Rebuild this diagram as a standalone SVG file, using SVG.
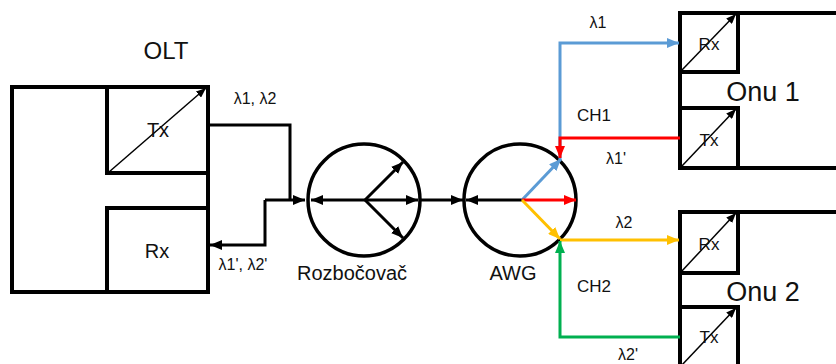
<svg xmlns="http://www.w3.org/2000/svg" width="836" height="364" viewBox="0 0 836 364">
  <style>
    .box { fill: #fff; stroke: #000; stroke-width: 4; }
    .diag { fill: none; stroke: #000; stroke-width: 1.5; }
    .wire { fill: none; stroke-width: 3; stroke-linejoin: miter; }
    .k { stroke: #000; }
    .b { stroke: #5B9BD5; }
    .r { stroke: #FF0000; }
    .o { stroke: #FFC000; }
    .g { stroke: #00B050; }
    .ring { fill: #fff; stroke: #000; stroke-width: 3.5; }
    text { font-family: "Liberation Sans", Arial, sans-serif; fill: #111; }
    .big { font-size: 24px; }
    .onu { font-size: 27px; }
    .mid { font-size: 20px; }
    .lab { font-size: 17px; }
    .lam { font-size: 16px; }
  </style>
  <defs>
    <marker id="ak" markerUnits="userSpaceOnUse" viewBox="0 0 12 10" refX="12" refY="5" markerWidth="12" markerHeight="10" orient="auto">
      <path d="M0,0 L12,5 L0,10 z" fill="#000"/>
    </marker>
    <marker id="ab" markerUnits="userSpaceOnUse" viewBox="0 0 12 10" refX="12" refY="5" markerWidth="12" markerHeight="10" orient="auto">
      <path d="M0,0 L12,5 L0,10 z" fill="#5B9BD5"/>
    </marker>
    <marker id="ar" markerUnits="userSpaceOnUse" viewBox="0 0 12 10" refX="12" refY="5" markerWidth="12" markerHeight="10" orient="auto">
      <path d="M0,0 L12,5 L0,10 z" fill="#FF0000"/>
    </marker>
    <marker id="ao" markerUnits="userSpaceOnUse" viewBox="0 0 12 10" refX="12" refY="5" markerWidth="12" markerHeight="10" orient="auto">
      <path d="M0,0 L12,5 L0,10 z" fill="#FFC000"/>
    </marker>
    <marker id="ag" markerUnits="userSpaceOnUse" viewBox="0 0 12 10" refX="12" refY="5" markerWidth="12" markerHeight="10" orient="auto">
      <path d="M0,0 L12,5 L0,10 z" fill="#00B050"/>
    </marker>
    <marker id="ad" markerUnits="userSpaceOnUse" viewBox="0 0 10 8" refX="10" refY="4" markerWidth="10" markerHeight="8" orient="auto">
      <path d="M0,0 L10,4 L0,8 z" fill="#000"/>
    </marker>
  </defs>

  <!-- OLT -->
  <g id="olt">
    <rect class="box" x="12" y="87" width="196" height="205"/>
    <text class="big" x="166" y="59" text-anchor="middle">OLT</text>
  </g>
  <g id="olt-tx">
    <rect class="box" x="107" y="87" width="101" height="86"/>
    <line class="diag" x1="109" y1="172" x2="206" y2="88" marker-end="url(#ad)"/>
    <text class="mid" x="158" y="137" text-anchor="middle">Tx</text>
  </g>
  <g id="olt-rx">
    <rect class="box" x="107" y="208" width="101" height="84"/>
    <text class="mid" x="157" y="258" text-anchor="middle">Rx</text>
  </g>

  <!-- Splitter -->
  <g id="splitter">
    <circle class="ring" cx="364" cy="200" r="56"/>
    <g class="wire k">
      <line x1="365" y1="200" x2="311" y2="200" marker-end="url(#ak)"/>
      <line x1="365" y1="200" x2="418" y2="200" marker-end="url(#ak)"/>
      <line x1="365" y1="200" x2="403" y2="162" marker-end="url(#ak)"/>
      <line x1="365" y1="200" x2="403" y2="238" marker-end="url(#ak)"/>
    </g>
    <text class="mid" x="352" y="280" text-anchor="middle">Rozbočovač</text>
  </g>

  <!-- AWG -->
  <g id="awg">
    <circle class="ring" cx="520" cy="200" r="56"/>
    <line class="wire k" x1="522" y1="200" x2="466" y2="200" marker-end="url(#ak)"/>
    <line class="wire b" x1="522" y1="200" x2="561" y2="159" marker-end="url(#ab)"/>
    <line class="wire r" x1="522" y1="200" x2="576" y2="200" marker-end="url(#ar)"/>
    <line class="wire o" x1="522" y1="200" x2="560" y2="239" marker-end="url(#ao)"/>
    <text class="mid" x="513" y="280" text-anchor="middle">AWG</text>
  </g>

  <!-- ONU 1 -->
  <g id="onu1">
    <rect class="box" x="680" y="13" width="170" height="155"/>
    <text class="onu" x="763" y="101" text-anchor="middle">Onu 1</text>
  </g>
  <g id="onu1-rx">
    <rect class="box" x="680" y="13" width="58" height="59"/>
    <line class="diag" x1="681" y1="71" x2="736" y2="14" marker-end="url(#ad)"/>
    <text class="lab" x="709" y="50" text-anchor="middle">Rx</text>
  </g>
  <g id="onu1-tx">
    <rect class="box" x="680" y="108" width="58" height="60"/>
    <line class="diag" x1="681" y1="167" x2="736" y2="109" marker-end="url(#ad)"/>
    <text class="lab" x="709" y="146" text-anchor="middle">Tx</text>
  </g>

  <!-- ONU 2 -->
  <g id="onu2">
    <rect class="box" x="680" y="212" width="170" height="170"/>
    <text class="onu" x="763" y="301" text-anchor="middle">Onu 2</text>
  </g>
  <g id="onu2-rx">
    <rect class="box" x="680" y="212" width="58" height="61"/>
    <line class="diag" x1="681" y1="272" x2="736" y2="213" marker-end="url(#ad)"/>
    <text class="lab" x="709" y="250" text-anchor="middle">Rx</text>
  </g>
  <g id="onu2-tx">
    <rect class="box" x="680" y="307" width="58" height="75"/>
    <line class="diag" x1="681" y1="366" x2="736" y2="308" marker-end="url(#ad)"/>
    <text class="lab" x="709" y="343" text-anchor="middle">Tx</text>
  </g>

  <!-- Connectors -->
  <g id="connectors">
    <polyline class="wire k" points="208,125 290,125 290,200"/>
    <line class="wire k" x1="265" y1="200" x2="305" y2="200" marker-end="url(#ak)"/>
    <polyline class="wire k" points="265,200 265,245 210,245" marker-end="url(#ak)"/>
    <line class="wire k" x1="420" y1="200" x2="463" y2="200" marker-end="url(#ak)"/>
    <polyline class="wire b" points="560,160 560,43 679,43" marker-end="url(#ab)"/>
    <polyline class="wire r" points="680,138 560,138 560,158" marker-end="url(#ar)"/>
    <line class="wire o" x1="560" y1="240" x2="679" y2="240" marker-end="url(#ao)"/>
    <polyline class="wire g" points="680,337 560,337 560,241" marker-end="url(#ag)"/>
  </g>

  <!-- Wavelength and channel labels -->
  <g id="labels">
    <text class="lam" x="255" y="104" text-anchor="middle">λ1, λ2</text>
    <text class="lam" x="243" y="270" text-anchor="middle">λ1', λ2'</text>
    <text class="lam" x="598" y="28" text-anchor="middle">λ1</text>
    <text class="lab" x="594" y="121" text-anchor="middle">CH1</text>
    <text class="lam" x="616" y="164" text-anchor="middle">λ1'</text>
    <text class="lam" x="624" y="228" text-anchor="middle">λ2</text>
    <text class="lab" x="594" y="292" text-anchor="middle">CH2</text>
    <text class="lam" x="628" y="360" text-anchor="middle">λ2'</text>
  </g>
</svg>
